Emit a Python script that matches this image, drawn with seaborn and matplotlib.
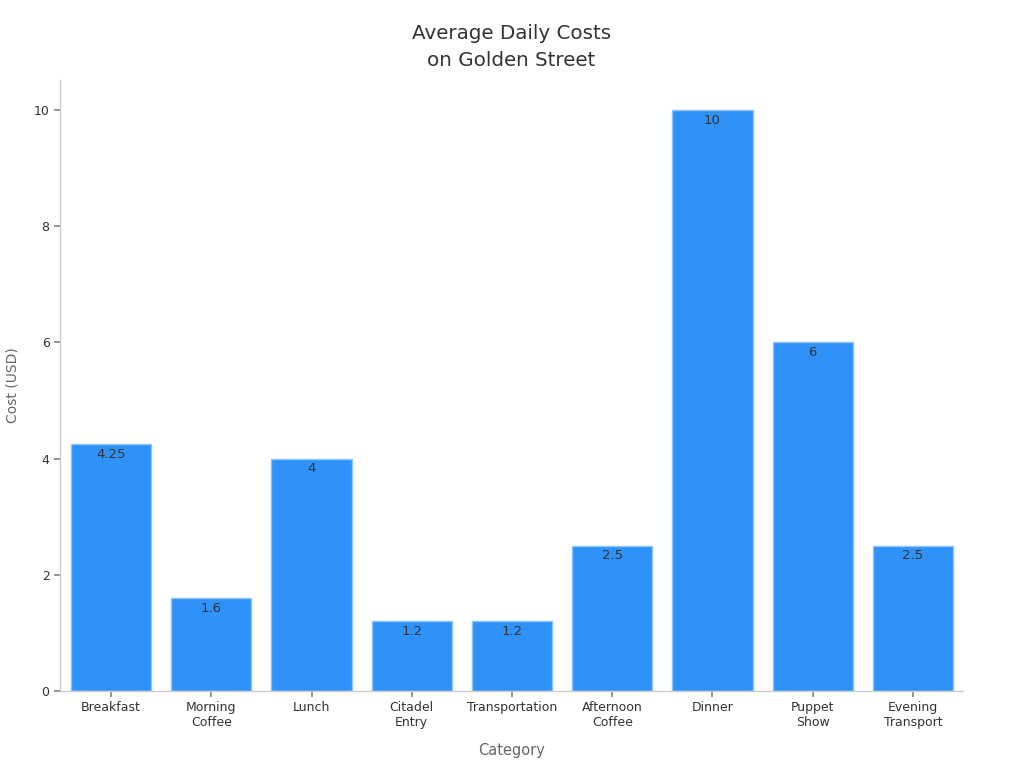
import matplotlib
matplotlib.use("Agg")
import matplotlib.pyplot as plt
import seaborn as sns
import pandas as pd

categories = [
    "Breakfast",
    "Morning\nCoffee",
    "Lunch",
    "Citadel\nEntry",
    "Transportation",
    "Afternoon\nCoffee",
    "Dinner",
    "Puppet\nShow",
    "Evening\nTransport",
]
costs = [4.25, 1.6, 4, 1.2, 1.2, 2.5, 10, 6, 2.5]

df = pd.DataFrame({"Category": categories, "Cost": costs})

sns.set_theme(style="ticks")
plt.rcParams["font.family"] = ["DejaVu Sans"]

fig = plt.figure(figsize=(10.24, 7.68), dpi=100)
ax = fig.add_axes([0.0586, 0.1003, 0.8818, 0.7957])

sns.barplot(
    data=df,
    x="Category",
    y="Cost",
    color="#2f92f8",
    saturation=1,
    width=0.8,
    edgecolor="#8cc4fb",
    linewidth=1,
    ax=ax
)

labels = [f"{v:g}" for v in costs]
ax.bar_label(
    ax.containers[0],
    labels=labels,
    padding=-12,
    fontsize=9.5,
    color="#333333"
)

ax.set_xlim(-0.51, 8.5)
ax.set_ylim(0, 10.52)
ax.set_yticks([0, 2, 4, 6, 8, 10])

ax.set_title(
    "Average Daily Costs\non Golden Street",
    fontsize=14.3,
    color="#333333",
    linespacing=1.5,
    pad=10
)
ax.set_xlabel("Category", fontsize=10.5, color="#666666", labelpad=10)
ax.set_ylabel("Cost (USD)", fontsize=10, color="#666666", labelpad=10)

ax.tick_params(axis="both", labelsize=9, colors="#333333", length=4)
ax.tick_params(axis="both", color="#888888")

for side in ["top", "right"]:
    ax.spines[side].set_visible(False)
for side in ["left", "bottom"]:
    ax.spines[side].set_color("#cccccc")
    ax.spines[side].set_linewidth(1)

fig.savefig("out.png", dpi=100)
plt.close(fig)
